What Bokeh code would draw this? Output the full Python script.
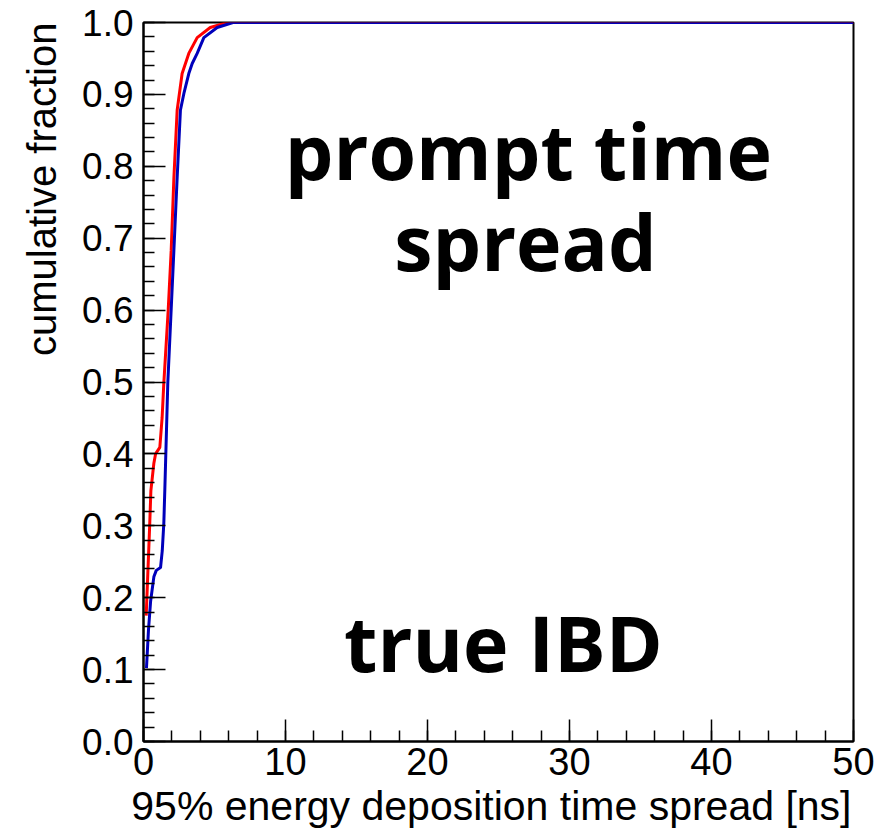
import math
from bokeh.plotting import figure
from bokeh.models import Label, FixedTicker, Range1d, Title
from bokeh.embed import file_html
from bokeh.resources import INLINE

# --- data ---
red_x = [0.19, 0.44, 0.52, 0.73, 0.85, 1.15, 1.31, 1.43, 1.74, 1.95, 2.14, 2.37, 2.72, 3.19, 3.78, 4.7, 5.9, 50.0]
red_y = [0.175, 0.303, 0.349, 0.387, 0.400, 0.409, 0.450, 0.498, 0.600, 0.683, 0.784, 0.878, 0.929, 0.957, 0.979, 0.993, 1.0, 1.0]

blue_x = [0.21, 0.35, 0.50, 0.73, 0.90, 1.20, 1.32, 1.43, 1.50, 1.71, 2.14, 2.37, 2.60, 2.84, 3.19, 3.43, 3.78, 4.25, 5.19, 6.3, 50.0]
blue_y = [0.102, 0.155, 0.195, 0.229, 0.238, 0.242, 0.265, 0.303, 0.349, 0.498, 0.683, 0.784, 0.878, 0.901, 0.929, 0.943, 0.957, 0.979, 0.993, 1.0, 1.0]

x_major = [0, 10, 20, 30, 40, 50]
x_minor = [v for v in range(0, 51, 2)]
y_major = [round(0.1 * i, 1) for i in range(11)]
y_minor = [round(0.02 * i, 2) for i in range(51)]

x_title = "95% energy deposition time spread [ns]"
y_title = "cumulative fraction"
text_line1 = "prompt time"
text_line2 = "spread"
text_line3 = "true IBD"

FONT = "Liberation Sans"

p = figure(width=875, height=835, output_backend="svg", toolbar_location=None,
           x_range=Range1d(0, 50), y_range=Range1d(0, 1))
p.min_border_left = 143
p.min_border_right = 22
p.min_border_top = 22
p.min_border_bottom = 94
p.background_fill_color = "white"
p.border_fill_color = "white"
p.outline_line_color = "black"
p.outline_line_width = 2
p.xgrid.visible = False
p.ygrid.visible = False

p.line(red_x, red_y, line_color="#ff0000", line_width=3)
p.line(blue_x, blue_y, line_color="#0000bb", line_width=3)

# x axis
xa = p.xaxis[0]
xa.ticker = FixedTicker(ticks=x_major, minor_ticks=x_minor)
xa.major_tick_in = 22
xa.major_tick_out = 0
xa.minor_tick_in = 11
xa.minor_tick_out = 0
xa.axis_line_width = 2
xa.major_tick_line_width = 1.5
xa.minor_tick_line_width = 1.5
xa.major_label_text_font = FONT
xa.major_label_text_font_size = "38px"
xa.major_label_text_color = "black"
xa.major_label_standoff = 6

# y axis
ya = p.yaxis[0]
ya.ticker = FixedTicker(ticks=y_major, minor_ticks=y_minor)
ya.major_label_overrides = {v: f"{v:.1f}" for v in y_major}
ya.major_tick_in = 22
ya.major_tick_out = 0
ya.minor_tick_in = 11
ya.minor_tick_out = 0
ya.axis_line_width = 2
ya.major_tick_line_width = 1.5
ya.minor_tick_line_width = 1.5
ya.major_label_text_font = FONT
ya.major_label_text_font_size = "37px"
ya.major_label_text_color = "black"
ya.major_label_standoff = 10

# axis titles, end-aligned as in ROOT
yt = Title(text=y_title, align="right", vertical_align="top", text_font=FONT,
           text_font_size="40px", text_font_style="normal", text_color="black",
           standoff=28, offset=0)
p.add_layout(yt, "left")

xt = Title(text=x_title, align="right", vertical_align="top", text_font=FONT,
           text_font_size="41px", text_font_style="normal", text_color="black",
           standoff=10, offset=2)
p.add_layout(xt, "below")

for tx, ty, t in [(27.1, 0.822, text_line1), (26.9, 0.696, text_line2), (25.35, 0.137, text_line3)]:
    p.add_layout(Label(x=tx, y=ty, text=t, text_align="center", text_baseline="alphabetic",
                       text_font="Open Sans", text_font_style="bold", text_font_size="77px",
                       text_color="black"))

open("out.html", "w").write(file_html(p, INLINE))
